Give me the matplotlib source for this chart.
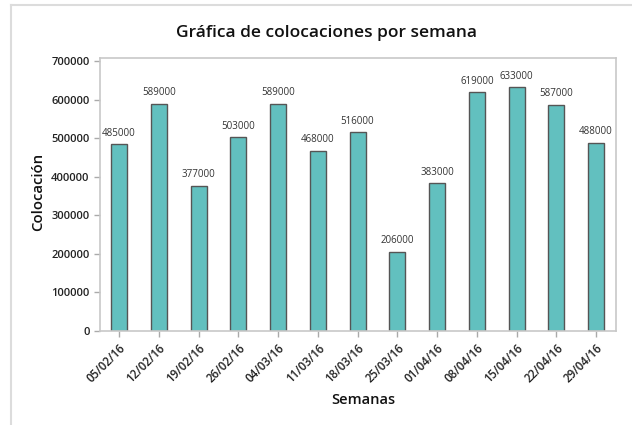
import matplotlib.pyplot as plt
from matplotlib.lines import Line2D

semanas = ["05/02/16", "12/02/16", "19/02/16", "26/02/16", "04/03/16", "11/03/16",
           "18/03/16", "25/03/16", "01/04/16", "08/04/16", "15/04/16", "22/04/16", "29/04/16"]
colocacion = [485000, 589000, 377000, 503000, 589000, 468000,
              516000, 206000, 383000, 619000, 633000, 587000, 488000]
yticks = [0, 100000, 200000, 300000, 400000, 500000, 600000, 700000]

plt.rcParams['font.family'] = ['Open Sans', 'DejaVu Sans']

fig = plt.figure(figsize=(6.32, 4.25), dpi=100)
W, H = 632, 425

# marco exterior (solo se ve arriba y a la izquierda)
fig.lines.append(Line2D([11 / W, 1.0], [1 - 5 / H, 1 - 5 / H], transform=fig.transFigure,
                        color="#dcdcdc", linewidth=1.5))
fig.lines.append(Line2D([11 / W, 11 / W], [0.0, 1 - 5 / H], transform=fig.transFigure,
                        color="#dcdcdc", linewidth=1.5))

ax = fig.add_axes([100 / W, 1 - 331 / H, (616 - 100) / W, (331 - 58) / H])

x = range(len(semanas))
ax.bar(x, colocacion, width=0.4, color="#62c0bf", edgecolor="#555555", linewidth=1.0)

for i, v in enumerate(colocacion):
    ax.text(i, v + 14000, str(v), ha="center", va="bottom", fontsize=7, color="#333333")

ax.set_xlim(-0.48, 12.5)
ax.set_ylim(0, 708000)
ax.set_yticks(yticks)
ax.set_yticklabels([str(t) for t in yticks], fontsize=8, fontweight="semibold", color="#222222")
ax.set_xticks(list(x))
ax.set_xticklabels(semanas, rotation=45, ha="right", rotation_mode="anchor",
                   fontsize=8.3, fontweight="semibold", color="#222222")
ax.tick_params(axis="both", color="#aaaaaa", length=4, width=1)

for s in ax.spines.values():
    s.set_color("#c8c8c8")
    s.set_linewidth(1.2)

fig.text(327 / W, 1 - 33 / H, "Gráfica de colocaciones por semana", ha="center", va="center",
         fontsize=12.5, fontweight="semibold", color="#111111")
fig.text(38 / W, 1 - 192 / H, "Colocación", ha="center", va="center", rotation=90,
         fontsize=10.7, fontweight="semibold", color="#111111")
fig.text(363 / W, 1 - 400 / H, "Semanas", ha="center", va="center",
         fontsize=10.5, fontweight="semibold", color="#111111")

fig.savefig("out.png", dpi=100)
